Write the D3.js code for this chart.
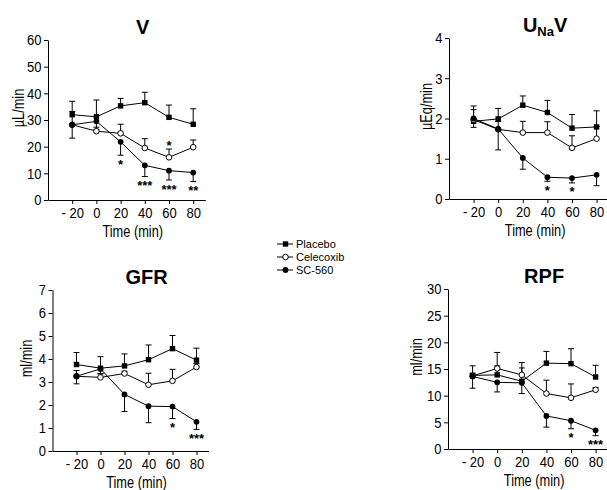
<!DOCTYPE html>
<html>
<head>
<meta charset="utf-8">
<script src="https://cdn.jsdelivr.net/npm/d3@7"></script>
<style>
  body { margin: 0; background: #fff; }
  svg { display: block; }
  text { font-family: "Liberation Sans", Arial, sans-serif; fill: #000; }
  .title { font-weight: bold; }
</style>
</head>
<body>
<div id="chart"></div>
<script>
// time points (min)
var times = [-20, 0, 20, 40, 60, 80];
var seriesNames = ["Placebo", "Celecoxib", "SC-560"];

// V (uL/min)
var vPlacebo = [32, 31.2, 35.3, 36.5, 31, 28.4];
var vPlaceboErr = [5, 6.3, 2.8, 3.9, 4.6, 5.8];
var vCelecoxib = [28.2, 25.8, 25, 19.5, 16, 19.8];
var vCelecoxibErr = [5, 1.5, 3.4, 3.5, 3.1, 2.7];
var vSC = [28.2, 29.5, 21.8, 13, 11, 10.3];
var vSCErr = [5, 3, 5, 4.2, 3.5, 3.4];

// UNaV (uEq/min)
var uPlacebo = [1.93, 1.99, 2.33, 2.15, 1.76, 1.79];
var uPlaceboErr = [0.38, 0.26, 0.23, 0.3, 0.34, 0.4];
var uCelecoxib = [1.97, 1.73, 1.65, 1.65, 1.27, 1.5];
var uCelecoxibErr = [0.25, 0.2, 0.28, 0.27, 0.3, 0.3];
var uSC = [2.0, 1.74, 1.02, 0.54, 0.52, 0.6];
var uSCErr = [0.22, 0.52, 0.28, 0.1, 0.12, 0.27];

// GFR (ml/min)
var gPlacebo = [3.76, 3.6, 3.7, 3.97, 4.45, 3.95];
var gPlaceboErr = [0.52, 0.5, 0.52, 0.64, 0.57, 0.52];
var gCelecoxib = [3.25, 3.2, 3.37, 2.88, 3.05, 3.65];
var gCelecoxibErr = [0.25, 0.15, 0.1, 0.5, 0.5, 0.15];
var gSC = [3.25, 3.57, 2.46, 1.95, 1.93, 1.27];
var gSCErr = [0.33, 0.2, 0.74, 0.72, 0.52, 0.33];

// RPF (ml/min)
var rPlacebo = [13.8, 13.9, 12.7, 16.1, 16, 13.5];
var rPlaceboErr = [1.8, 1.7, 2.5, 2.2, 2.8, 2.2];
var rCelecoxib = [13.7, 15.1, 13.9, 10.4, 9.6, 11.1];
var rCelecoxibErr = [0.5, 3, 2.3, 2.5, 2.6, 0.4];
var rSC = [13.6, 12.5, 12.4, 6.2, 5.3, 3.5];
var rSCErr = [2.2, 1.8, 2.0, 2.1, 1.5, 1.0];

// significance marks: [series index, time, label]
var vStars = [[2, 20, "*"], [2, 40, "***"], [2, 60, "***"], [2, 80, "**"], [1, 60, "*"]];
var uStars = [[2, 40, "*"], [2, 60, "*"]];
var gStars = [[2, 60, "*"], [2, 80, "***"]];
var rStars = [[2, 60, "*"], [2, 80, "***"]];

var w = 607, h = 490;
var svg = d3.select("#chart").append("svg").attr("width", w).attr("height", h);

// no narrow face installed, so squeeze text horizontally
var NARROW = 0.84;

var panels = [
  { title: "V", ylab: "\u00b5L/min", yTicks: d3.range(0, 61, 10), ymax: 60,
    left: 48, pxPerUnit: 1.21, top: 40, bottom: 200, ylabX: 24,
    series: [[vPlacebo, vPlaceboErr], [vCelecoxib, vCelecoxibErr], [vSC, vSCErr]], stars: vStars },
  { title: "UNaV", ylab: "\u00b5Eq/min", yTicks: d3.range(0, 5, 1), ymax: 4,
    left: 449, pxPerUnit: 1.23, top: 38, bottom: 199, ylabX: 432,
    series: [[uPlacebo, uPlaceboErr], [uCelecoxib, uCelecoxibErr], [uSC, uSCErr]], stars: uStars },
  { title: "GFR", ylab: "ml/min", yTicks: d3.range(0, 8, 1), ymax: 7,
    left: 52.5, pxPerUnit: 1.2, top: 290, bottom: 451, ylabX: 32,
    series: [[gPlacebo, gPlaceboErr], [gCelecoxib, gCelecoxibErr], [gSC, gSCErr]], stars: gStars },
  { title: "RPF", ylab: "ml/min", yTicks: d3.range(0, 31, 5), ymax: 30,
    left: 448, pxPerUnit: 1.23, top: 289, bottom: 449, ylabX: 422,
    series: [[rPlacebo, rPlaceboErr], [rCelecoxib, rCelecoxibErr], [rSC, rSCErr]], stars: rStars }
];

// error bar direction per series: placebo & celecoxib up, SC-560 down
var errDir = [1, 1, -1];

function drawMarker(g, i, cx, cy) {
  if (i === 0) {
    g.append("rect").attr("x", cx - 2.7).attr("y", cy - 2.7)
      .attr("width", 5.4).attr("height", 5.4).attr("fill", "#000");
  } else if (i === 1) {
    g.append("circle").attr("cx", cx).attr("cy", cy).attr("r", 2.8)
      .attr("fill", "#fff").attr("stroke", "#000").attr("stroke-width", 1);
  } else {
    g.append("circle").attr("cx", cx).attr("cy", cy).attr("r", 2.9).attr("fill", "#000");
  }
}

panels.forEach(function (p) {
  var x = d3.scaleLinear().domain([-40, 90]).range([p.left, p.left + 130 * p.pxPerUnit]);
  var y = d3.scaleLinear().domain([0, p.ymax]).range([p.bottom, p.top]);
  var g = svg.append("g");

  // axes
  g.append("g").attr("transform", "translate(0," + p.bottom + ")")
    .call(d3.axisBottom(x).tickValues(times).tickSize(4).tickSizeOuter(0).tickPadding(3)
      .tickFormat(function (d) { return d < 0 ? "- " + Math.abs(d) : d; }))
    .call(function (a) {
      a.selectAll("text").attr("font-size", 15.5).attr("transform", "scale(" + NARROW + ",1)");
      a.attr("font-family", null);
    });
  g.append("g").attr("transform", "translate(" + p.left + ",0)")
    .call(d3.axisLeft(y).tickValues(p.yTicks).tickSize(4).tickSizeOuter(0).tickPadding(2)
      .tickFormat(d3.format("d")))
    .call(function (a) {
      a.selectAll("text").attr("font-size", 15.5).attr("x", -6.5 / NARROW)
        .attr("transform", "scale(" + NARROW + ",1)");
      a.attr("font-family", null);
    });

  // connecting lines
  var line = d3.line().x(function (d, i) { return x(times[i]); }).y(function (d) { return y(d); });
  p.series.forEach(function (s) {
    g.append("path").datum(s[0]).attr("d", line)
      .attr("fill", "none").attr("stroke", "#000").attr("stroke-width", 1);
  });

  // error bars (one-sided)
  p.series.forEach(function (s, si) {
    s[0].forEach(function (m, i) {
      var cx = x(times[i]);
      var yEnd = y(m + errDir[si] * s[1][i]);
      g.append("line").attr("x1", cx).attr("x2", cx).attr("y1", y(m)).attr("y2", yEnd)
        .attr("stroke", "#000").attr("stroke-width", 1);
      g.append("line").attr("x1", cx - 3).attr("x2", cx + 3).attr("y1", yEnd).attr("y2", yEnd)
        .attr("stroke", "#000").attr("stroke-width", 1);
    });
  });

  // markers
  p.series.forEach(function (s, si) {
    s[0].forEach(function (m, i) { drawMarker(g, si, x(times[i]), y(m)); });
  });

  // significance stars
  p.stars.forEach(function (st) {
    var s = p.series[st[0]], i = times.indexOf(st[1]);
    var yEnd = y(s[0][i] + errDir[st[0]] * s[1][i]);
    var cy = st[0] === 2 ? yEnd + 6.5 : yEnd - 6;
    g.append("text").attr("x", x(st[1])).attr("y", cy + 7).attr("text-anchor", "middle")
      .attr("font-size", 13).attr("font-weight", "bold")
      .text(st[2]);
  });

  // title
  var cx = (x(-20) + x(80)) / 2 + 10;
  var t = g.append("text").attr("class", "title").attr("x", cx).attr("y", p.top - 6)
    .attr("text-anchor", "middle").attr("font-size", 20);
  if (p.title === "UNaV") {
    t.append("tspan").text("U");
    t.append("tspan").attr("font-size", 13).attr("dy", 4).text("Na");
    t.append("tspan").attr("dy", -4).text("V");
  } else {
    t.text(p.title);
  }

  // axis labels
  g.append("text")
    .attr("transform", "translate(" + ((x(-20) + x(80)) / 2) + "," + (p.bottom + 37) + ") scale(0.8,1)")
    .attr("text-anchor", "middle").attr("font-size", 16).text("Time (min)");
  g.append("text")
    .attr("transform", "translate(" + p.ylabX + "," + ((p.top + p.bottom) / 2 - 12) + ") rotate(-90) scale(0.8,1)")
    .attr("text-anchor", "middle").attr("font-size", 16).text(p.ylab);
});

// legend
var legY = [244, 257, 270];
var leg = svg.append("g");
seriesNames.forEach(function (name, i) {
  leg.append("line").attr("x1", 277).attr("x2", 293).attr("y1", legY[i]).attr("y2", legY[i])
    .attr("stroke", "#000").attr("stroke-width", 1);
  drawMarker(leg, i, 285.5, legY[i]);
  leg.append("text").attr("x", 296).attr("y", legY[i] + 4).attr("font-size", 11).text(name);
});
</script>
</body>
</html>
